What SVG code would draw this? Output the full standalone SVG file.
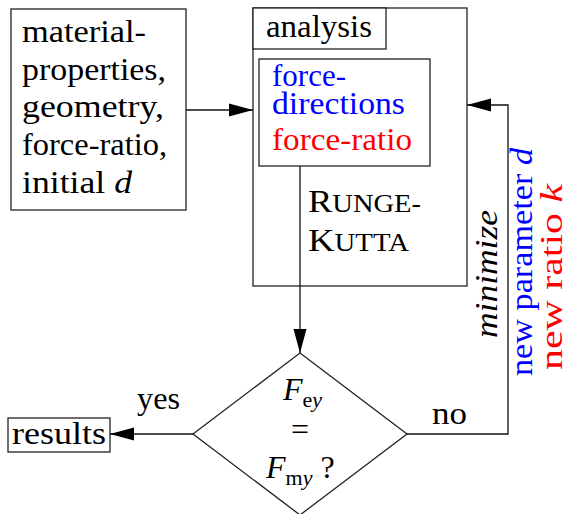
<svg xmlns="http://www.w3.org/2000/svg" width="568" height="514" viewBox="0 0 568 514">
<defs>
<marker id="ah" markerWidth="24" markerHeight="14" refX="24" refY="7" orient="auto" markerUnits="userSpaceOnUse"><path d="M0,0.5 L24,7 L0,13.5 Z" fill="#000"/></marker>
<style>
text{font-size:32px;fill:#000}
.box{fill:#fff;stroke:#222;stroke-width:1.3}
.ln{fill:none;stroke:#111;stroke-width:1.3}
.it{font-style:italic}
.sub{font-size:22px}
.sc{font-size:25px}
.blue{fill:#0000ff}
.red{fill:#ff0000}
</style>
</defs>
<rect width="568" height="514" fill="#fff"/>
<g font-family="'Liberation Serif', 'DejaVu Serif', serif">
<g id="inputs">
<rect class="box" x="11" y="9" width="175" height="201"/>
<text x="22" y="42" textLength="124" lengthAdjust="spacingAndGlyphs">material-</text>
<text x="22" y="80" textLength="144" lengthAdjust="spacingAndGlyphs">properties,</text>
<text x="22" y="117" textLength="142" lengthAdjust="spacingAndGlyphs">geometry,</text>
<text x="22" y="155" textLength="145" lengthAdjust="spacingAndGlyphs">force-ratio,</text>
<text x="22" y="193" textLength="110" lengthAdjust="spacingAndGlyphs">initial <tspan class="it">d</tspan></text>
</g>
<g id="analysis">
<rect class="box" x="253" y="8" width="214" height="278"/>
<rect class="box" x="253" y="8" width="133" height="41"/>
<text x="266" y="37" textLength="106" lengthAdjust="spacingAndGlyphs">analysis</text>
<text x="308" y="212" textLength="113" lengthAdjust="spacingAndGlyphs">R<tspan class="sc">UNGE-</tspan></text>
<text x="308" y="251" textLength="101" lengthAdjust="spacingAndGlyphs">K<tspan class="sc">UTTA</tspan></text>
</g>
<g id="forces">
<rect class="box" x="259" y="59" width="171" height="107"/>
<text x="272" y="86" class="blue" textLength="74" lengthAdjust="spacingAndGlyphs">force-</text>
<text x="272" y="114" class="blue" textLength="133" lengthAdjust="spacingAndGlyphs">directions</text>
<text x="272" y="150" class="red" textLength="140" lengthAdjust="spacingAndGlyphs">force-ratio</text>
</g>
<g id="decision">
<polygon class="box" points="300,353 407,434 300,515 193,434"/>
<text x="283" y="400"><tspan class="it">F</tspan><tspan class="sub" dy="7">e</tspan><tspan class="sub it">y</tspan></text>
<text x="300" y="440" text-anchor="middle">=</text>
<text x="266" y="478"><tspan class="it">F</tspan><tspan class="sub" dy="7">m</tspan><tspan class="sub it">y</tspan><tspan dy="-7"> ?</tspan></text>
</g>
<g id="results">
<rect class="box" x="8" y="418" width="102" height="34"/>
<text x="12" y="444" textLength="94" lengthAdjust="spacingAndGlyphs">results</text>
</g>
<g id="connectors">
<path class="ln" d="M186,110 H253" marker-end="url(#ah)"/>
<path class="ln" d="M300,166 V353" marker-end="url(#ah)"/>
<path class="ln" d="M407,434 H508 V105 H467" marker-end="url(#ah)"/>
<path class="ln" d="M193,434 H110" marker-end="url(#ah)"/>
<text x="137" y="409" textLength="43" lengthAdjust="spacingAndGlyphs">yes</text>
<text x="432" y="424" textLength="35" lengthAdjust="spacingAndGlyphs">no</text>
<text class="it" transform="translate(497,274) rotate(-90)" text-anchor="middle" textLength="128" lengthAdjust="spacingAndGlyphs">minimize</text>
<text class="blue" transform="translate(532,262) rotate(-90)" text-anchor="middle" textLength="228" lengthAdjust="spacingAndGlyphs">new parameter <tspan class="it">d</tspan></text>
<text class="red" transform="translate(562,277) rotate(-90)" text-anchor="middle" textLength="186" lengthAdjust="spacingAndGlyphs">new ratio <tspan class="it">k</tspan></text>
</g>
</g>
</svg>
